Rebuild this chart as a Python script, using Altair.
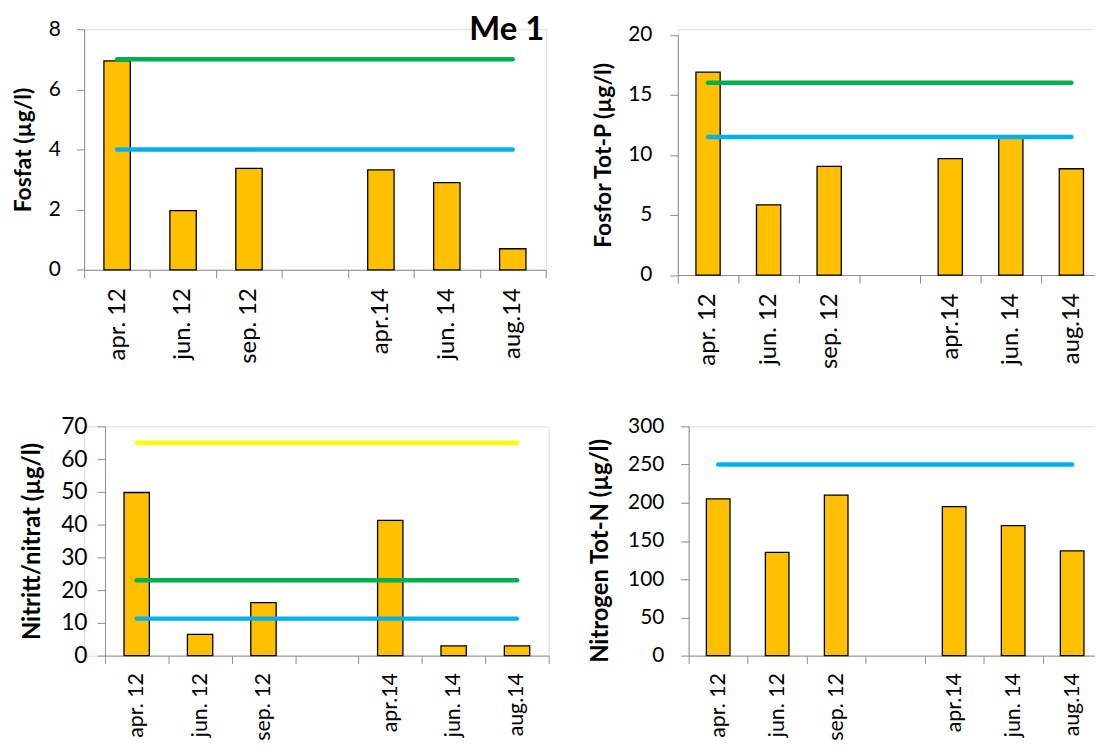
import altair as alt
import pandas as pd

categories = ["apr. 12", "jun. 12", "sep. 12", " ", "apr.14", "jun. 14", "aug.14"]

fosfat = [6.95, 1.97, 3.37, None, 3.32, 2.90, 0.70]
fosfor_tot_p = [16.9, 5.85, 9.05, None, 9.7, 11.5, 8.85]
nitritt_nitrat = [49.8, 6.5, 16.2, None, 41.3, 3.0, 3.0]
nitrogen_tot_n = [205, 135, 210, None, 195, 170, 137]

limit_names = ["yellow", "green", "blue"]
limit_colors = ["#FFFF00", "#00B050", "#00B0F0"]
fosfat_limits = [None, 7.0, 4.0]
fosfor_limits = [None, 16.0, 11.5]
nitritt_limits = [65.0, 23.0, 11.3]
nitrogen_limits = [None, None, 250.0]

fosfat_ticks = [0, 2, 4, 6, 8]
fosfor_ticks = [0, 5, 10, 15, 20]
nitritt_ticks = [0, 10, 20, 30, 40, 50, 60, 70]
nitrogen_ticks = [0, 50, 100, 150, 200, 250, 300]

AXIS_GREY = "#8C8C8C"
FONT = "Lato"


def panel(values, limits, ticks, ytitle, width, height, extent, title_x,
          label_pad, title_y=None, label_size=21, title_size=23,
          x_label_size=24, x_label_pad=10,
          shift_x=0, shift_y=0, chart_title=None):
    bars_df = pd.DataFrame({"cat": categories, "value": values}).dropna()
    rows = []
    for name, lim in zip(limit_names, limits):
        if lim is None:
            continue
        for c in (categories[0], categories[-1]):
            rows.append({"cat": c, "value": lim, "series": name})
    lines_df = pd.DataFrame(rows)

    x_scale = dict(domain=categories, paddingInner=0, paddingOuter=0)
    if shift_x:
        x_scale["rangeMin"] = shift_x
    x_enc = alt.X(
        "cat:N",
        scale=alt.Scale(**x_scale),
        axis=alt.Axis(
            title=None, labelAngle=-90, tickBand="extent", tickSize=8,
            labelPadding=x_label_pad, labelFont=FONT, labelFontSize=x_label_size,
            labelColor="black", labelOverlap=False,
            domainColor=AXIS_GREY, tickColor=AXIS_GREY, grid=False,
        ),
    )
    axis_kw = dict(
        values=ticks, grid=False, tickSize=8, labelPadding=label_pad,
        labelFont=FONT, labelFontSize=label_size, labelColor="black", labelOverlap=False,
        domainColor=AXIS_GREY, tickColor=AXIS_GREY,
        title=ytitle, titleFont=FONT, titleFontSize=title_size,
        titleFontWeight="bold", titleColor="black", titleBaseline="middle",
        titleX=title_x, minExtent=extent, maxExtent=extent,
    )
    if title_y is not None:
        axis_kw["titleY"] = title_y
    if shift_x:
        axis_kw["offset"] = -shift_x
    y_scale = dict(domain=[ticks[0], ticks[-1]], nice=False, zero=True)
    if shift_y:
        y_scale["rangeMax"] = shift_y
    y_enc = alt.Y("value:Q", scale=alt.Scale(**y_scale), axis=alt.Axis(**axis_kw))
    bars = alt.Chart(bars_df).mark_bar(
        width=alt.RelativeBandSize(0.4), fill="#FFC000", stroke="black", strokeWidth=1.3
    ).encode(x=x_enc, y=y_enc)
    lines = alt.Chart(lines_df).mark_line(strokeWidth=4.5, strokeCap="round").encode(
        x=x_enc,
        y=y_enc,
        color=alt.Color("series:N", scale=alt.Scale(domain=limit_names, range=limit_colors), legend=None),
    )
    props = dict(width=width + shift_x, height=height + shift_y)
    if chart_title is not None:
        props["title"] = chart_title
    return alt.layer(bars, lines).properties(**props)


me_title = alt.TitleParams(
    "Me 1", anchor="end", fontSize=33, font=FONT, fontWeight="bold", color="black",
    offset=-28.4, dx=-2,
)

p1 = panel(fosfat, fosfat_limits, fosfat_ticks, "Fosfat (µg/l)", 465, 242.3, 76.7, -60.7, 16,
           chart_title=me_title)
p2 = panel(fosfor_tot_p, fosfor_limits, fosfor_ticks, "Fosfor Tot-P (µg/l)", 427, 242, 90, -74.8, 18,
           shift_y=5.6)
p3 = panel(nitritt_nitrat, nitritt_limits, nitritt_ticks, "Nitritt/nitrat (µg/l)", 447, 231, 76.7, -72.8, 10,
           label_size=23, title_size=24, x_label_size=21.5, x_label_pad=9, shift_x=21)
p4 = panel(nitrogen_tot_n, nitrogen_limits, nitrogen_ticks, "Nitrogen Tot-N (µg/l)", 416, 231, 100, -88.3, 17,
           title_size=24, title_y=125, x_label_size=21.5, x_label_pad=9)

row1 = alt.hconcat(p1, p2, spacing=41)
row2 = alt.hconcat(p3, p4, spacing=39)
chart = alt.vconcat(row1, row2, spacing=45).properties(
    autosize=alt.AutoSizeParams(type="none"),
    padding={"left": 76.7, "top": 18.7, "right": 1018.3, "bottom": 717.3},
).configure_view(strokeWidth=0).configure(font=FONT)

chart.save("out.html", embed_options={"renderer": "svg", "actions": False})
